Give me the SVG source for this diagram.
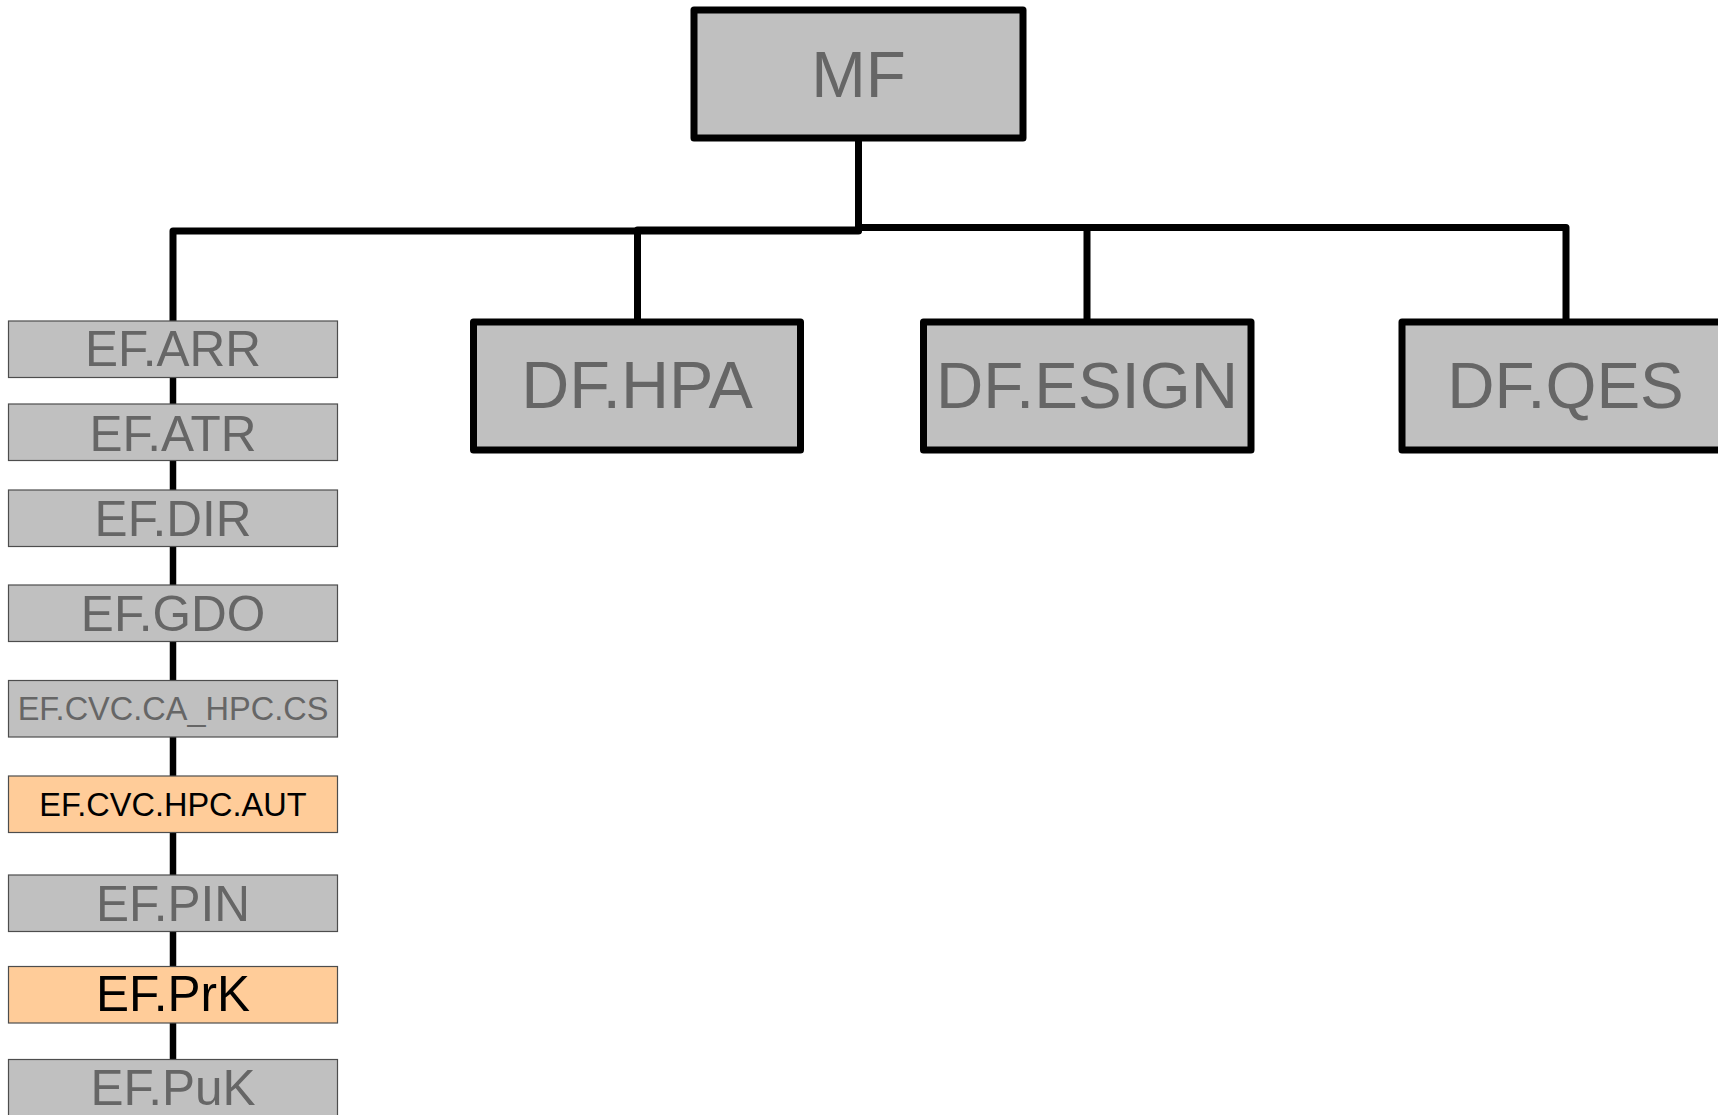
<svg xmlns="http://www.w3.org/2000/svg" width="1718" height="1115" viewBox="0 0 1718 1115">
<style>
.big{fill:#c0c0c0;stroke:#000;stroke-width:7;stroke-linejoin:round}
.ef{fill:#c0c0c0;stroke:#4d4d4d;stroke-width:1.2}
.hl{fill:#ffcc99;stroke:#4d4d4d;stroke-width:1.2}
.t{font-family:"Liberation Sans",Arial,sans-serif;text-anchor:middle;fill:#666666}
.dk{fill:#000000}
.conn{fill:none;stroke:#000;stroke-width:7;stroke-linejoin:round}
.sp{fill:none;stroke:#000;stroke-width:6.5}
</style>
<rect x="0" y="0" width="1718" height="1115" fill="#ffffff"/>
<g id="connectors">
<path class="conn" d="M858.5,138 V231 H173 V321"/>
<path class="conn" d="M858.5,138 V230 H637.5 V322"/>
<path class="conn" d="M858.5,138 V227.5 H1087 V322"/>
<path class="conn" d="M858.5,138 V227.5 H1566 V322"/>
<path class="sp" d="M173,377 V404"/>
<path class="sp" d="M173,461 V490"/>
<path class="sp" d="M173,547 V585"/>
<path class="sp" d="M173,642 V680.5"/>
<path class="sp" d="M173,737 V776"/>
<path class="sp" d="M173,833 V875"/>
<path class="sp" d="M173,932 V966.5"/>
<path class="sp" d="M173,1023 V1059.5"/>
</g>
<g id="MF"><rect class="big" x="694" y="10" width="329" height="128"/><text class="t" x="858.5" y="97" font-size="65.5">MF</text></g>
<g id="DF.HPA"><rect class="big" x="473.5" y="322" width="327" height="128"/><text class="t" x="637" y="408" font-size="66.5">DF.HPA</text></g>
<g id="DF.ESIGN"><rect class="big" x="923.5" y="322" width="327.5" height="128"/><text class="t" x="1087" y="408" font-size="65.5">DF.ESIGN</text></g>
<g id="DF.QES"><rect class="big" x="1402" y="322" width="327" height="128"/><text class="t" x="1565.5" y="408" font-size="65.5">DF.QES</text></g>
<g id="EF.ARR"><rect class="ef" x="8.5" y="321" width="329" height="56.5"/><text class="t" x="173" y="366" font-size="49.5">EF.ARR</text></g>
<g id="EF.ATR"><rect class="ef" x="8.5" y="404" width="329" height="56.5"/><text class="t" x="173" y="450.5" font-size="49.5">EF.ATR</text></g>
<g id="EF.DIR"><rect class="ef" x="8.5" y="490" width="329" height="56.5"/><text class="t" x="173" y="535.5" font-size="49.5">EF.DIR</text></g>
<g id="EF.GDO"><rect class="ef" x="8.5" y="585" width="329" height="56.5"/><text class="t" x="173" y="630.5" font-size="49.5">EF.GDO</text></g>
<g id="EF.CVC.CA_HPC.CS"><rect class="ef" x="8.5" y="680.5" width="329" height="56.5"/><text class="t" x="173" y="720" font-size="32.5">EF.CVC.CA_HPC.CS</text></g>
<g id="EF.CVC.HPC.AUT"><rect class="hl" x="8.5" y="776" width="329" height="56.5"/><text class="t dk" x="173" y="815.7" font-size="32.5">EF.CVC.HPC.AUT</text></g>
<g id="EF.PIN"><rect class="ef" x="8.5" y="875" width="329" height="56.5"/><text class="t" x="173" y="921" font-size="49.5">EF.PIN</text></g>
<g id="EF.PrK"><rect class="hl" x="8.5" y="966.5" width="329" height="56.5"/><text class="t dk" x="173" y="1011" font-size="49.5">EF.PrK</text></g>
<g id="EF.PuK"><rect class="ef" x="8.5" y="1059.5" width="329" height="70"/><text class="t" x="173" y="1105" font-size="49.5">EF.PuK</text></g>
</svg>
